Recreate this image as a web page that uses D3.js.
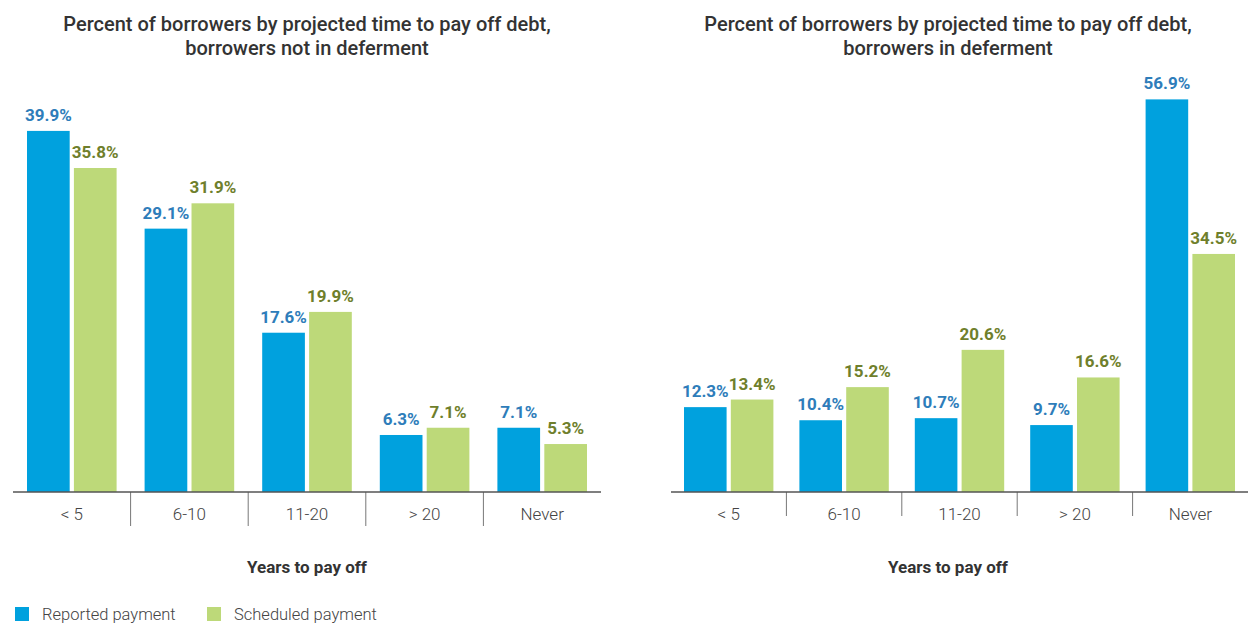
<!DOCTYPE html>
<html>
<head>
<meta charset="utf-8">
<script src="https://cdn.jsdelivr.net/npm/d3@7"></script>
<style>
  body { margin:0; background:#fff; }
  svg { font-family: Roboto, "Open Sans", sans-serif; }
</style>
</head>
<body>
<div id="chart"></div>
<script>
// data
var categories = ['< 5', '6-10', '11-20', '> 20', 'Never'];
var seriesNames = ['Reported payment', 'Scheduled payment'];
var notDeferReported = [39.9, 29.1, 17.6, 6.3, 7.1];
var notDeferScheduled = [35.8, 31.9, 19.9, 7.1, 5.3];
var deferReported = [12.3, 10.4, 10.7, 9.7, 56.9];
var deferScheduled = [13.4, 15.2, 20.6, 16.6, 34.5];

var barColors = ['#00a1de', '#bdd979'];
var labelColors = ['#2e7dba', '#6f7f2c'];

var width = 1248, height = 624;
var svg = d3.select('#chart').append('svg')
  .attr('width', width)
  .attr('height', height);

function drawPanel(opts){
  var g = svg.append('g');
  var base = 492;

  var x0 = d3.scaleBand().domain(categories).range([opts.x0, opts.x1]);
  var bw = x0.bandwidth();
  var x1 = d3.scaleBand().domain(seriesNames)
    .range([opts.pad, bw - opts.pad])
    .paddingInner(0.09);
  var y = d3.scaleLinear().domain([0, opts.yMax]).range([base, base - opts.yMax*opts.pxPer]);

  // title
  var t = g.append('text')
    .attr('x', opts.titleX)
    .attr('y', 31)
    .attr('text-anchor', 'middle')
    .style('font-size', '20px')
    .style('font-weight', 500)
    .style('fill', '#333');
  t.append('tspan').attr('x', opts.titleX).attr('dy', 0).text('Percent of borrowers by projected time to pay off debt,');
  t.append('tspan').attr('x', opts.titleX).attr('dy', 24).text(opts.subtitle);

  var rows = categories.map(function(c, i){
    return {cat: c, vals: [opts.a[i], opts.b[i]]};
  });

  var groups = g.selectAll('.grp').data(rows).enter().append('g')
    .attr('transform', function(d){ return 'translate(' + x0(d.cat) + ',0)'; });

  groups.selectAll('rect').data(function(d){
      return d.vals.map(function(v, j){ return {s: seriesNames[j], v: v, j: j}; });
    }).enter().append('rect')
    .attr('x', function(d){ return x1(d.s); })
    .attr('width', x1.bandwidth())
    .attr('y', function(d){ return y(d.v); })
    .attr('height', function(d){ return base - y(d.v); })
    .style('fill', function(d){ return barColors[d.j]; });

  groups.selectAll('.val').data(function(d){
      return d.vals.map(function(v, j){ return {s: seriesNames[j], v: v, j: j}; });
    }).enter().append('text')
    .attr('x', function(d){ return x1(d.s) + x1.bandwidth()/2; })
    .attr('y', function(d){ return y(d.v) - 10; })
    .attr('text-anchor', 'middle')
    .style('font-size', '17px')
    .style('font-weight', 'bold')
    .style('fill', function(d){ return labelColors[d.j]; })
    .text(function(d){ return d.v.toFixed(1) + '%'; });

  // category axis
  var axis = g.append('g')
    .attr('transform', 'translate(0,' + base + ')')
    .call(d3.axisBottom(x0).tickSize(0).tickPadding(16));
  axis.select('.domain').remove();
  axis.selectAll('text')
    .style('font-size', '17px')
    .style('font-weight', 300)
    .style('font-family', 'Roboto, sans-serif')
    .style('fill', '#444');

  // separators between categories
  g.selectAll('.sep').data(categories.slice(1)).enter().append('line')
    .attr('x1', function(d){ return x0(d); })
    .attr('x2', function(d){ return x0(d); })
    .attr('y1', base)
    .attr('y2', base + opts.sepLen)
    .style('stroke', '#777')
    .style('stroke-width', '1px');

  g.append('line')
    .attr('x1', opts.x0).attr('x2', opts.x1)
    .attr('y1', base).attr('y2', base)
    .style('stroke', '#555')
    .style('stroke-width', '1.5px');

  g.append('text')
    .attr('x', opts.titleX)
    .attr('y', 573)
    .attr('text-anchor', 'middle')
    .style('font-size', '17px')
    .style('font-weight', 'bold')
    .style('fill', '#333')
    .text('Years to pay off');
}

drawPanel({x0: 13, x1: 601, pad: 14, yMax: 40, pxPer: 9.05, titleX: 307,
  subtitle: 'borrowers not in deferment', a: notDeferReported, b: notDeferScheduled, sepLen: 34});
drawPanel({x0: 671, x1: 1248, pad: 13, yMax: 60, pxPer: 6.9, titleX: 948,
  subtitle: 'borrowers in deferment', a: deferReported, b: deferScheduled, sepLen: 24});

// legend
var legend = svg.append('g').attr('transform', 'translate(15,607)');
var items = legend.selectAll('g').data(seriesNames).enter().append('g')
  .attr('transform', function(d, i){ return 'translate(' + (i*192) + ',0)'; });
items.append('rect')
  .attr('width', 14).attr('height', 14)
  .style('fill', function(d, i){ return barColors[i]; });
items.append('text')
  .attr('x', 27)
  .attr('y', 13)
  .style('font-size', '16.5px')
  .style('font-weight', 300)
  .style('fill', '#444')
  .text(function(d){ return d; });
</script>
</body>
</html>
